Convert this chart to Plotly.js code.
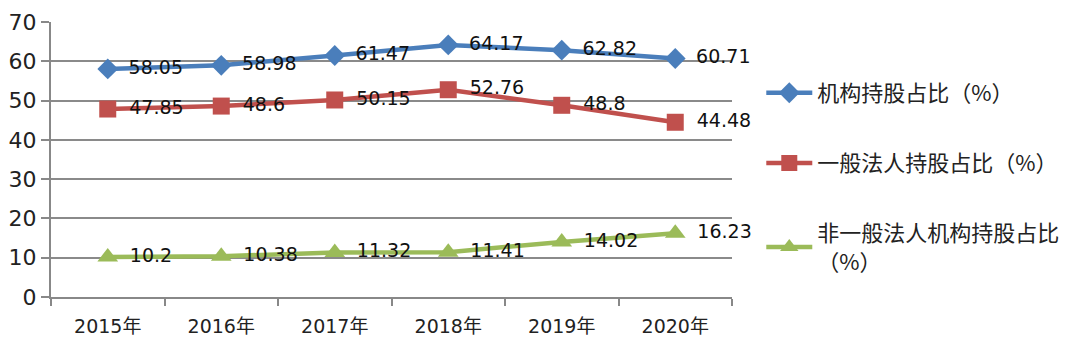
<!DOCTYPE html>
<html>
<head>
<meta charset="utf-8">
<script src="https://cdn.plot.ly/plotly-3.0.1.min.js"></script>
<style>html,body{margin:0;padding:0;background:#fff;}#chart{width:1080px;height:350px;}</style>
</head>
<body>
<div id="chart"></div>
<script>
const years = ["2015年", "2016年", "2017年", "2018年", "2019年", "2020年"];
const institutional = [58.05, 58.98, 61.47, 64.17, 62.82, 60.71];
const generalLegal = [47.85, 48.6, 50.15, 52.76, 48.8, 44.48];
const nonGeneralInst = [10.2, 10.38, 11.32, 11.41, 14.02, 16.23];
const seriesNames = ["机构持股占比（%）", "一般法人持股占比（%）", "非一般法人机构持股占比<br>（%）"];

const FONT = "'DejaVu Sans', 'Liberation Sans', 'Noto Sans CJK SC', sans-serif";
const CJK = "'Noto Sans CJK SC', 'DejaVu Sans', sans-serif";

function mk(y, name, color, symbol, size, legend) {
  return {
    x: years, y: y, name: name, type: 'scatter', mode: 'lines+markers+text',
    line: {color: color, width: 4.5},
    marker: {color: color, symbol: symbol, size: size},
    text: y.map(v => '\u00a0\u2009' + String(v)), textposition: 'middle right',
    textfont: {family: FONT, size: 19, color: '#111'},
    cliponaxis: false, legend: legend
  };
}

const data = [
  mk(institutional, seriesNames[0], '#4a7ebb', 'diamond', 16, 'legend'),
  mk(generalLegal, seriesNames[1], '#c0504d', 'square', 17, 'legend2'),
  mk(nonGeneralInst, seriesNames[2], '#9bbb59', 'triangle-up', 18, 'legend3')
];

const legBase = {xanchor: 'left', x: 1.043, itemwidth: 46, bgcolor: 'rgba(0,0,0,0)', font: {family: CJK, size: 22, color: '#222'}};
const layout = {
  width: 1080, height: 350,
  margin: {l: 51, r: 348, t: 22, b: 53},
  paper_bgcolor: '#fff', plot_bgcolor: '#fff',
  showlegend: true,
  xaxis: {
    type: 'category', range: [-0.5, 5.5], tickson: 'boundaries', ticks: 'outside', ticklen: 7, tickwidth: 2, tickcolor: '#888',
    showline: true, linecolor: '#888', linewidth: 2, showgrid: false,
    ticklabelstandoff: 11,
    tickfont: {family: FONT, size: 19, color: '#222'}
  },
  yaxis: {
    range: [0, 70], dtick: 10, showline: true, linecolor: '#888', linewidth: 2,
    gridcolor: '#8a8a8a', gridwidth: 2, zeroline: false,
    ticks: 'outside', ticklen: 8, tickwidth: 2, tickcolor: '#888',
    tickfont: {family: FONT, size: 22, color: '#222'}
  },
  legend: Object.assign({}, legBase, {y: 0.742, yanchor: 'middle'}),
  legend2: Object.assign({}, legBase, {y: 0.487, yanchor: 'middle'}),
  legend3: Object.assign({}, legBase, {y: 0.18, yanchor: 'middle'})
};

Plotly.newPlot('chart', data, layout, {displayModeBar: false, staticPlot: true});
</script>
</body>
</html>
